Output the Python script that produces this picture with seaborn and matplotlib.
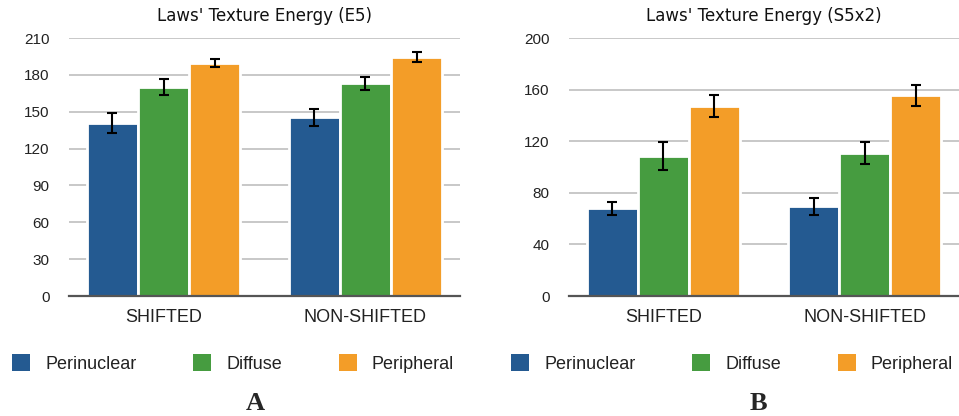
import matplotlib
matplotlib.use("Agg")
import matplotlib.pyplot as plt
from matplotlib.container import BarContainer
from matplotlib.patches import Patch
import numpy as np
import pandas as pd
import seaborn as sns

groups = ["SHIFTED", "NON-SHIFTED"]
locations = ["Perinuclear", "Diffuse", "Peripheral"]
colors = ["#245a91", "#469c40", "#f39d28"]

# panel A: E5
e5_mean = {"SHIFTED": [141, 170, 189.5], "NON-SHIFTED": [145.5, 173, 194.5]}
e5_err = {"SHIFTED": [8, 6.5, 3.5], "NON-SHIFTED": [7, 5.5, 4]}

# panel B: S5x2
s5_mean = {"SHIFTED": [68, 108.5, 147], "NON-SHIFTED": [69.5, 111, 155.5]}
s5_err = {"SHIFTED": [5, 10.5, 8.5], "NON-SHIFTED": [6.5, 8.5, 8]}

sns.set_style("white")
plt.rcParams["font.family"] = ["DejaVu Sans"]

SANS = ["Liberation Sans", "DejaVu Sans"]


def make_frame(means, errs):
    rows = []
    for g in groups:
        for loc, m, e in zip(locations, means[g], errs[g]):
            rows.append({"group": g, "location": loc, "value": m, "err": e})
    return pd.DataFrame(rows)


def bar_containers(ax):
    return [c for c in ax.containers if isinstance(c, BarContainer)]


def draw_panel(ax, data, title, ymax, step):
    sns.barplot(data=data, x="group", y="value", hue="location", order=groups,
                hue_order=locations, palette=colors, width=0.76, errorbar=None,
                edgecolor="white", linewidth=2, saturation=1, legend=False, ax=ax, zorder=3)
    # error bars placed on the bar centres drawn by seaborn
    for container, loc in zip(bar_containers(ax), locations):
        sub = data[data["location"] == loc].set_index("group").loc[groups]
        xs = [p.get_x() + p.get_width() / 2 for p in container.patches]
        ax.errorbar(xs, sub["value"], yerr=sub["err"], fmt="none", ecolor="black",
                    elinewidth=1.5, capsize=3.5, capthick=1.5, zorder=4)
    ax.set_ylim(0, ymax)
    ax.set_yticks(np.arange(0, ymax + 1, step))
    ax.yaxis.grid(True, color="#c8c8c8", linewidth=1.4, zorder=0)
    ax.set_axisbelow(True)
    for s in ["top", "right", "left"]:
        ax.spines[s].set_visible(False)
    ax.spines["bottom"].set_color("#555555")
    ax.spines["bottom"].set_linewidth(1.6)
    ax.spines["bottom"].set_zorder(5)
    ax.tick_params(axis="y", length=0, pad=14, labelsize=11, labelcolor="#222222")
    ax.tick_params(axis="x", length=0, pad=9, labelsize=13, labelcolor="#222222")
    for lab in ax.get_xticklabels() + ax.get_yticklabels():
        lab.set_family(SANS)
    ax.set_xlabel("")
    ax.set_ylabel("")
    ax.set_title(title, fontsize=12, pad=12, color="#111111")


fig = plt.figure(figsize=(9.59, 4.16), dpi=100)
ax_a = fig.add_axes([69 / 959, 120 / 416, 391 / 959, 258 / 416])
ax_b = fig.add_axes([569 / 959, 120 / 416, 390 / 959, 258 / 416])

draw_panel(ax_a, make_frame(e5_mean, e5_err), "Laws' Texture Energy (E5)", 210, 30)
draw_panel(ax_b, make_frame(s5_mean, s5_err), "Laws' Texture Energy (S5x2)", 200, 40)

for ax, x0 in [(ax_a, 12 / 959), (ax_b, 511 / 959)]:
    handles = [Patch(facecolor=c.patches[0].get_facecolor(), edgecolor="none")
               for c in bar_containers(ax)]
    fig.legend(handles, locations, loc="center left", bbox_to_anchor=(x0, 1 - 363.5 / 416),
               ncol=3, frameon=False, borderpad=0, borderaxespad=0,
               handlelength=1.0, handleheight=1.1,
               handletextpad=0.83, columnspacing=3.15, labelcolor="#222222",
               prop={"family": SANS, "size": 13})

fig.text(255 / 959, 1 - 403 / 416, "A", ha="center", va="center", fontsize=19,
         fontweight="bold", family=["Liberation Serif", "DejaVu Serif"])
fig.text(758 / 959, 1 - 403 / 416, "B", ha="center", va="center", fontsize=19,
         fontweight="bold", family=["Liberation Serif", "DejaVu Serif"])

fig.savefig("out.png", dpi=100)
